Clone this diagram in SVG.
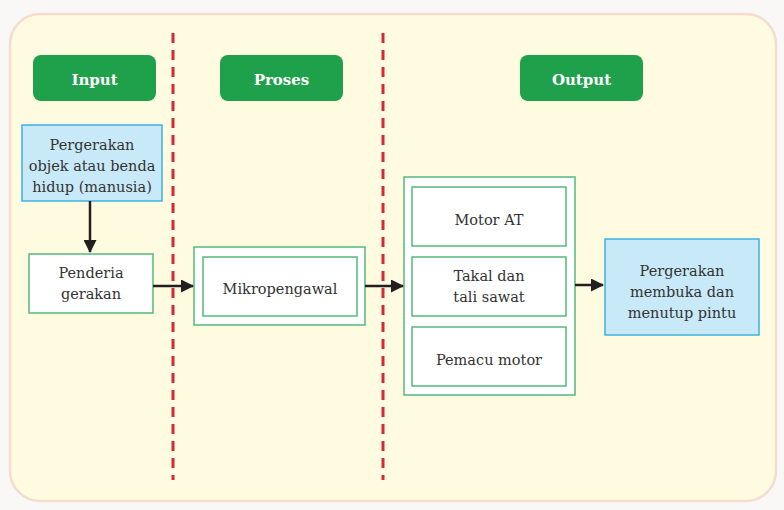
<svg xmlns="http://www.w3.org/2000/svg" width="784" height="510" viewBox="0 0 784 510">
<defs>
<marker id="ah" markerWidth="13" markerHeight="13" refX="12" refY="6.5" orient="auto" markerUnits="userSpaceOnUse">
<path d="M0,0 L13,6.5 L0,13 Z" fill="#231f20"/>
</marker>
</defs>
<style>
.hdr{fill:#1fa04a;}
.htx{font-family:"DejaVu Serif","Liberation Serif",serif;font-weight:bold;font-size:15px;fill:#ffffff;text-anchor:middle;}
.tx{font-family:"DejaVu Serif","Liberation Serif",serif;font-size:14.5px;fill:#333333;text-anchor:middle;}
.blue{fill:#c8e9f8;stroke:#3cb3df;stroke-width:1.5;}
.grn{fill:#ffffff;stroke:#55b97d;stroke-width:1.5;}
.dash{stroke:#d42a35;stroke-width:3;stroke-dasharray:10 7;fill:none;}
.con{stroke:#231f20;stroke-width:2.5;fill:none;marker-end:url(#ah);}
</style>
<rect x="0" y="0" width="784" height="510" fill="#faf8f7"/>
<rect x="10" y="14" width="766" height="487" rx="30" fill="#fffbe0" stroke="#f4dccf" stroke-width="2.5"/>
<g id="dividers">
<line class="dash" x1="173" y1="33" x2="173" y2="480"/>
<line class="dash" x1="383" y1="33" x2="383" y2="480"/>
</g>
<g id="hdr-input"><rect class="hdr" x="33" y="55" width="123" height="46" rx="8"/><text class="htx" x="94.5" y="85">Input</text></g>
<g id="hdr-proses"><rect class="hdr" x="220" y="55" width="123" height="46" rx="8"/><text class="htx" x="281.5" y="85">Proses</text></g>
<g id="hdr-output"><rect class="hdr" x="520" y="55" width="123" height="46" rx="8"/><text class="htx" x="581.5" y="85">Output</text></g>
<g id="n-pergerakan-objek"><rect class="blue" x="22" y="125" width="140" height="76"/>
<text class="tx" x="92" y="150">Pergerakan</text><text class="tx" x="92" y="171">objek atau benda</text><text class="tx" x="92" y="192">hidup (manusia)</text></g>
<g id="n-penderia"><rect class="grn" x="29" y="254" width="124" height="59"/>
<text class="tx" x="91" y="278">Penderia</text><text class="tx" x="91" y="299">gerakan</text></g>
<g id="n-mikropengawal"><rect class="grn" x="194" y="247" width="171" height="78"/><rect class="grn" x="203" y="257" width="154" height="59"/>
<text class="tx" x="280" y="294">Mikropengawal</text></g>
<g id="n-output-group"><rect class="grn" x="404" y="177" width="171" height="218"/>
<g id="n-motor"><rect class="grn" x="412" y="187" width="154" height="59"/><text class="tx" x="489" y="225">Motor AT</text></g>
<g id="n-takal"><rect class="grn" x="412" y="257" width="154" height="59"/><text class="tx" x="489" y="281">Takal dan</text><text class="tx" x="489" y="302">tali sawat</text></g>
<g id="n-pemacu"><rect class="grn" x="412" y="327" width="154" height="59"/><text class="tx" x="489" y="365">Pemacu motor</text></g>
</g>
<g id="n-pergerakan-pintu"><rect class="blue" x="605" y="239" width="154" height="96"/>
<text class="tx" x="682" y="276">Pergerakan</text><text class="tx" x="682" y="297">membuka dan</text><text class="tx" x="682" y="318">menutup pintu</text></g>
<g id="connectors">
<line class="con" x1="90" y1="201" x2="90" y2="252"/>
<line class="con" x1="153" y1="286" x2="193" y2="286"/>
<line class="con" x1="365" y1="286" x2="403" y2="286"/>
<line class="con" x1="575" y1="285" x2="603" y2="285"/>
</g>
</svg>
